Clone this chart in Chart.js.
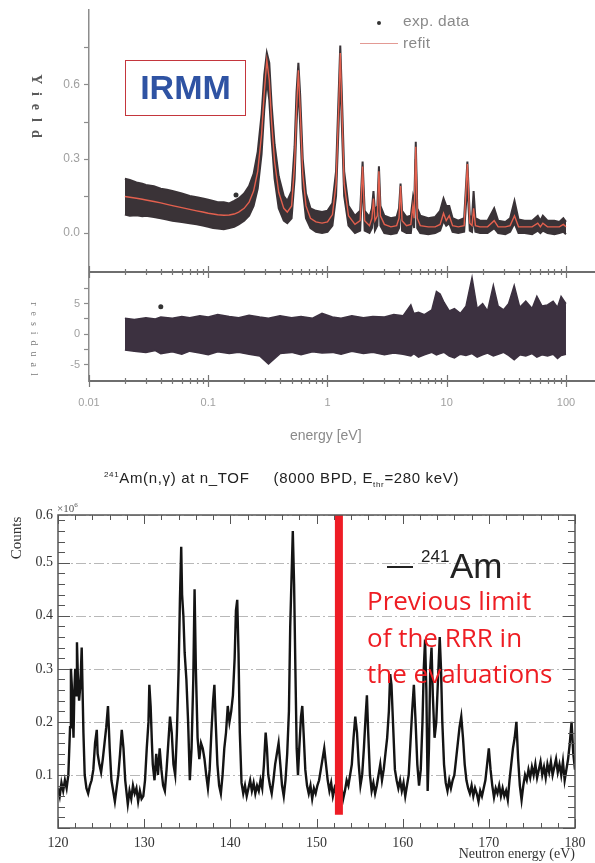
<!DOCTYPE html>
<html>
<head>
<meta charset="utf-8">
<script src="https://cdn.jsdelivr.net/npm/chart.js@4.4.1/dist/chart.umd.min.js"></script>
<style>
  body { margin: 0; background: #fff; width: 595px; height: 863px; position: relative; overflow: hidden; font-family: "Liberation Sans", Arial, sans-serif; }
  canvas { position: absolute; left: 0; }
  .lbl { position: absolute; white-space: nowrap; }
  .red { position: absolute; white-space: nowrap; left: 367px; font: 26px "Open Sans"; color: #ee1d23; }
</style>
</head>
<body>
<canvas id="yieldChart" width="595" height="272" style="top:0"></canvas>
<canvas id="residChart" width="595" height="201" style="top:262px"></canvas>
<canvas id="amChart" width="595" height="393" style="top:470px"></canvas>

<!-- top panel texts -->
<div class="lbl" style="left:125px;top:60px;width:121px;height:56px;box-sizing:border-box;border:1.5px solid #c4363d;color:#2f53a3;font:bold 34px 'Liberation Sans';text-align:center;line-height:52px;">IRMM</div>
<div class="lbl" style="left:377px;top:21px;width:4px;height:4px;border-radius:2px;background:#333;"></div>
<div class="lbl" style="left:403px;top:12px;font-size:15.5px;letter-spacing:0.3px;color:#8a8a8a;">exp. data</div>
<div class="lbl" style="left:360px;top:43px;width:38px;height:1px;background:#e39a94;"></div>
<div class="lbl" style="left:403px;top:34px;font-size:15.5px;letter-spacing:0.3px;color:#8a8a8a;">refit</div>
<div class="lbl" style="left:36px;top:110px;transform:translate(-50%,-50%) rotate(90deg);font:bold 14px 'Liberation Serif';letter-spacing:8px;color:#5a5a5a;">Yield</div>
<div class="lbl" style="left:34px;top:342px;transform:translate(-50%,-50%) rotate(90deg);font:10px 'Liberation Serif';letter-spacing:6px;color:#7a7a7a;">residual</div>
<div class="lbl" style="left:290px;top:427px;font-size:14px;color:#8a8a8a;">energy [eV]</div>

<!-- bottom panel texts -->
<div class="lbl" style="left:104px;top:469px;font-size:15px;letter-spacing:0.65px;color:#222;"><span style="font-size:8px;vertical-align:6px;">241</span>Am(n,γ) at n_TOF&nbsp;&nbsp;&nbsp;&nbsp;&nbsp;(8000 BPD, E<sub style="font-size:8px;">thr</sub>=280 keV)</div>
<div class="lbl" style="left:57px;top:501px;font:11px 'Liberation Serif';color:#555;">×10<sup style="font-size:7px;">6</sup></div>
<div class="lbl" style="left:16px;top:538px;transform:translate(-50%,-50%) rotate(-90deg);font:15px 'Liberation Serif';color:#333;">Counts</div>
<div class="lbl" style="right:20px;top:846px;font:14px 'Liberation Serif';color:#333;">Neutron energy (eV)</div>
<div class="lbl" style="left:387px;top:566px;width:26px;height:2px;background:#222;"></div>
<div class="lbl" style="left:421px;top:547px;font-size:17px;color:#222;">241</div>
<div class="lbl" style="left:450px;top:546px;font-size:35px;color:#222;">Am</div>
<div class="red" style="top:582px;">Previous limit</div>
<div class="red" style="top:619px;">of the RRR in</div>
<div class="red" style="top:655px;">the evaluations</div>

<script>
// ---- IRMM yield fit (top panel), energies in eV ----
const topEnergy = [
  0.02, 0.022, 0.025, 0.028, 0.03, 0.035, 0.04, 0.045, 0.05, 0.06,
  0.07, 0.08, 0.09, 0.1, 0.11, 0.12, 0.135, 0.15, 0.165, 0.18,
  0.2, 0.22, 0.24, 0.26, 0.28, 0.295, 0.31, 0.325, 0.34, 0.36,
  0.39, 0.43, 0.46, 0.5, 0.53, 0.55, 0.57, 0.59, 0.62, 0.66,
  0.72, 0.8, 0.9, 1.0, 1.1, 1.18, 1.24, 1.28, 1.32, 1.38,
  1.5, 1.7, 1.88, 1.97, 2.05, 2.25, 2.36, 2.43, 2.5, 2.62,
  2.7, 2.78, 3.0, 3.4, 3.8, 3.98, 4.1, 4.22, 4.6, 5.0,
  5.2, 5.33, 5.5, 5.66, 6.0, 7.0, 8.0, 8.8, 9.4, 9.9,
  10.5, 11.2, 12.5, 14.0, 14.9, 15.6, 16.3, 16.8, 17.4, 19,
  22, 25, 27, 31, 34, 37, 40, 45, 52, 58,
  61, 64, 70, 80, 88, 95, 100
];
const topFit = [
  0.148, 0.145, 0.141, 0.137, 0.134, 0.128, 0.122, 0.116, 0.111, 0.103,
  0.096, 0.09, 0.085, 0.08, 0.077, 0.074, 0.072, 0.073, 0.077, 0.085,
  0.1, 0.125, 0.17, 0.25, 0.4, 0.57, 0.7, 0.62, 0.45, 0.29,
  0.165, 0.1, 0.085, 0.11, 0.28, 0.5, 0.66, 0.5, 0.24, 0.11,
  0.06, 0.045, 0.04, 0.045, 0.075, 0.2, 0.5, 0.73, 0.5, 0.2,
  0.07, 0.035, 0.05, 0.27, 0.05, 0.03, 0.06, 0.14, 0.05, 0.07,
  0.25, 0.07, 0.035, 0.025, 0.03, 0.06, 0.19, 0.05, 0.03, 0.035,
  0.11, 0.06, 0.35, 0.06, 0.03, 0.025, 0.025, 0.035, 0.08, 0.05,
  0.07, 0.03, 0.025, 0.03, 0.28, 0.04, 0.03, 0.1, 0.03, 0.025,
  0.025, 0.05, 0.025, 0.025, 0.03, 0.07, 0.025, 0.025, 0.025, 0.04,
  0.025, 0.04, 0.025, 0.025, 0.025, 0.035, 0.025
];
const topExpHigh = [
  0.22, 0.215, 0.205, 0.2, 0.195, 0.19, 0.18, 0.175, 0.17, 0.16,
  0.15, 0.145, 0.14, 0.135, 0.13, 0.125, 0.125, 0.12, 0.13, 0.14,
  0.16, 0.19, 0.24, 0.33, 0.48, 0.64, 0.73, 0.69, 0.52, 0.36,
  0.23, 0.15, 0.13, 0.17, 0.35, 0.57, 0.69, 0.56, 0.3, 0.16,
  0.1, 0.09, 0.085, 0.09, 0.12, 0.25, 0.56, 0.76, 0.56, 0.25,
  0.11, 0.07, 0.09, 0.29, 0.09, 0.065, 0.1, 0.17, 0.09, 0.11,
  0.27, 0.11, 0.07, 0.06, 0.065, 0.1, 0.2, 0.09, 0.065, 0.07,
  0.14, 0.1, 0.37, 0.1, 0.07, 0.06, 0.065, 0.09, 0.14, 0.11,
  0.11, 0.06, 0.05, 0.06, 0.29, 0.07, 0.06, 0.17, 0.06, 0.05,
  0.05, 0.1, 0.05, 0.045, 0.06, 0.13, 0.055, 0.05, 0.05, 0.07,
  0.05, 0.07, 0.05, 0.05, 0.045, 0.06, 0.045
];
const topExpLow = [
  0.075, 0.07, 0.072, 0.068, 0.07, 0.065, 0.06, 0.055, 0.05, 0.045,
  0.04, 0.035, 0.03, 0.025, 0.02, 0.018, 0.015, 0.02, 0.025, 0.035,
  0.05, 0.07, 0.11, 0.18, 0.32, 0.5, 0.62, 0.54, 0.38, 0.22,
  0.1, 0.05, 0.04, 0.06, 0.22, 0.44, 0.6, 0.44, 0.18, 0.06,
  0.02, 0.005, 0.0, 0.005, 0.03, 0.15, 0.44, 0.66, 0.44, 0.15,
  0.03, 0.0, 0.01, 0.22, 0.01, 0.0, 0.02, 0.1, 0.01, 0.03,
  0.2, 0.03, 0.0, -0.005, 0.0, 0.02, 0.15, 0.01, 0.0, 0.0,
  0.07, 0.02, 0.3, 0.02, 0.0, -0.005, 0.0, 0.01, 0.05, 0.03,
  0.04, 0.005, 0.0, 0.005, 0.2, 0.01, 0.005, 0.07, 0.005, 0.0,
  0.0, 0.02, 0.0, -0.005, 0.005, 0.04, 0.0, 0.0, -0.005, 0.01,
  0.0, 0.01, 0.0, -0.005, 0.0, 0.005, -0.005
];
const topOutlier = { x: 0.171, y: 0.154 };

// ---- residuals ----
const resEnergy = [
  0.02, 0.024, 0.03, 0.036, 0.04, 0.05, 0.06, 0.07, 0.085, 0.1,
  0.12, 0.15, 0.18, 0.22, 0.27, 0.32, 0.4, 0.5, 0.6, 0.75,
  0.9, 1.1, 1.3, 1.6, 2.0, 2.4, 3.0, 3.6, 4.3, 5.0,
  5.3, 5.8, 6.5, 7.5, 8.2, 8.8, 9.5, 10.5, 11.6, 13,
  14.5, 16.3, 18, 20, 22, 24.6, 27, 30, 33, 36.8,
  41, 46, 52, 57, 63, 70, 78, 85, 91, 100
];
const resHigh = [
  2.6, 2.4, 2.7, 2.5, 2.8, 2.6, 2.9, 2.7, 3.0, 2.8,
  3.2, 2.9, 2.7, 3.1, 2.8, 2.6, 3.0, 2.7, 2.9, 2.6,
  3.4, 2.8, 2.6, 3.0, 2.7, 2.9, 2.8, 3.2, 3.0, 4.8,
  3.4, 3.6, 3.2, 4.0, 7.0, 6.6, 5.2, 3.8, 4.2, 3.4,
  4.6, 9.3, 4.2, 5.0, 3.8, 8.0, 4.6, 4.0, 5.0, 8.0,
  4.4, 5.4, 4.2, 6.2, 4.6, 4.8, 5.4, 4.4, 6.2, 5.0
];
const resLow = [
  -2.6, -2.8, -3.0, -2.7, -3.2, -2.9, -3.3, -2.8, -3.1, -3.4,
  -2.9, -3.2, -3.0, -3.3, -3.6, -4.9, -3.2, -3.0, -3.4, -2.9,
  -3.1, -3.0, -3.3, -2.8, -3.2, -3.0, -3.4, -3.1, -3.3, -3.6,
  -3.2, -3.8, -3.4, -3.0, -3.4, -3.2, -3.0, -3.6, -3.9, -3.3,
  -3.5, -3.2, -3.8, -3.4, -3.1, -3.6, -3.3, -3.0, -3.5, -4.2,
  -3.4, -3.6, -3.2, -3.8, -3.4, -3.6, -3.3, -4.0, -3.5, -3.3
];
const resOutlier = { x: 0.04, y: 4.5 };

const energyDecades = [0.01, 0.1, 1, 10, 100];
const energyDecadeLabels = ['0.01', '0.1', '1', '10', '100'];
const yieldTicks = [0, 0.15, 0.3, 0.45, 0.6, 0.75];
const yieldLabelled = [0, 0.3, 0.6];
const residTicks = [-5, -2.5, 0, 2.5, 5, 7.5];
const residLabelled = [-5, 0, 5];

// ---- 241Am(n,g) n_TOF counts (x10^6) vs neutron energy (eV) ----
const amSpectrum = [
  [120.0,.075],[120.2,.06],[120.4,.085],[120.6,.07],[120.8,.09],[121.0,.075],[121.2,.10],[121.4,.19],[121.5,.30],[121.6,.27],
  [121.7,.22],[121.8,.17],[121.9,.26],[122.0,.30],[122.1,.25],[122.2,.35],[122.3,.29],[122.45,.24],[122.6,.27],[122.75,.34],
  [122.85,.26],[122.95,.18],[123.1,.10],[123.3,.075],[123.5,.065],[123.7,.08],[123.9,.09],[124.1,.11],[124.3,.16],[124.5,.185],
  [124.6,.14],[124.8,.12],[125.0,.105],[125.2,.13],[125.4,.16],[125.6,.19],[125.8,.23],[126.0,.15],[126.2,.09],[126.4,.07],
  [126.6,.05],[126.8,.075],[127.0,.10],[127.2,.14],[127.4,.185],[127.6,.15],[127.8,.09],[128.0,.06],[128.1,.045],[128.3,.07],
  [128.5,.055],[128.7,.08],[128.9,.065],[129.1,.075],[129.3,.05],[129.5,.07],[129.7,.055],[129.9,.06],[130.1,.09],[130.3,.15],
  [130.5,.20],[130.6,.27],[130.75,.23],[130.9,.16],[131.0,.12],[131.2,.09],[131.4,.14],[131.6,.10],[131.8,.15],[132.0,.11],
  [132.2,.08],[132.4,.07],[132.6,.11],[132.8,.16],[133.0,.21],[133.2,.18],[133.4,.12],[133.6,.10],[133.8,.18],[134.0,.30],
  [134.15,.43],[134.3,.53],[134.4,.44],[134.55,.40],[134.7,.33],[134.9,.28],[135.1,.20],[135.3,.09],[135.5,.15],[135.7,.28],
  [135.85,.45],[136.0,.30],[136.2,.17],[136.4,.13],[136.6,.16],[136.8,.15],[137.0,.13],[137.2,.10],[137.4,.075],[137.6,.11],
  [137.8,.18],[138.0,.24],[138.15,.27],[138.3,.20],[138.5,.12],[138.7,.08],[138.9,.065],[139.1,.10],[139.3,.15],[139.5,.18],
  [139.7,.23],[139.9,.20],[140.1,.22],[140.3,.25],[140.5,.32],[140.65,.41],[140.8,.43],[140.95,.33],[141.1,.18],[141.3,.085],
  [141.5,.065],[141.7,.08],[141.9,.06],[142.1,.075],[142.3,.09],[142.5,.07],[142.7,.085],[142.9,.065],[143.1,.08],[143.3,.07],
  [143.5,.09],[143.7,.075],[143.9,.12],[144.1,.18],[144.25,.15],[144.4,.10],[144.6,.08],[144.8,.065],[145.0,.09],[145.2,.12],
  [145.4,.14],[145.6,.16],[145.8,.12],[146.0,.08],[146.2,.06],[146.4,.09],[146.6,.14],[146.8,.22],[146.95,.38],[147.1,.47],
  [147.25,.56],[147.4,.46],[147.55,.30],[147.7,.15],[147.85,.10],[148.0,.15],[148.2,.21],[148.35,.23],[148.5,.18],[148.7,.11],
  [148.9,.08],[149.1,.065],[149.3,.08],[149.5,.055],[149.7,.075],[149.9,.065],[150.1,.08],[150.3,.09],[150.5,.11],[150.7,.13],
  [150.9,.15],[151.1,.12],[151.3,.09],[151.5,.07],[151.7,.085],[151.9,.06],[152.1,.075],[152.3,.065],[152.5,.08],[152.7,.06],
  [152.9,.075],[153.1,.055],[153.3,.07],[153.5,.09],[153.7,.08],[153.9,.10],[154.1,.12],[154.3,.17],[154.5,.21],[154.7,.18],
  [154.9,.12],[155.1,.08],[155.3,.10],[155.5,.15],[155.7,.21],[155.85,.25],[156.0,.18],[156.2,.10],[156.4,.07],[156.6,.085],
  [156.8,.065],[157.0,.08],[157.2,.10],[157.4,.12],[157.6,.09],[157.8,.11],[158.0,.14],[158.2,.17],[158.4,.22],[158.55,.29],
  [158.7,.27],[158.9,.19],[159.1,.11],[159.3,.09],[159.5,.075],[159.7,.09],[159.9,.07],[160.1,.085],[160.3,.06],[160.5,.08],
  [160.7,.10],[160.9,.16],[161.1,.22],[161.3,.27],[161.5,.20],[161.7,.12],[161.9,.08],[162.1,.11],[162.3,.20],[162.45,.30],
  [162.6,.355],[162.75,.26],[162.9,.07],[163.05,.15],[163.2,.30],[163.35,.34],[163.5,.25],[163.7,.17],[163.9,.20],[164.1,.28],
  [164.3,.36],[164.45,.30],[164.6,.20],[164.8,.12],[165.0,.085],[165.2,.07],[165.4,.09],[165.6,.075],[165.8,.09],[166.0,.10],
  [166.2,.13],[166.4,.16],[166.6,.19],[166.8,.21],[167.0,.17],[167.2,.12],[167.4,.09],[167.6,.075],[167.8,.065],[168.0,.08],
  [168.2,.06],[168.4,.075],[168.6,.065],[168.8,.05],[169.0,.07],[169.2,.06],[169.4,.075],[169.6,.09],[169.8,.12],[170.0,.15],
  [170.2,.11],[170.4,.08],[170.6,.058],[170.8,.075],[171.0,.065],[171.2,.08],[171.4,.06],[171.6,.075],[171.8,.06],[172.0,.07],
  [172.2,.053],[172.4,.09],[172.6,.12],[172.8,.15],[173.0,.17],[173.2,.20],[173.4,.13],[173.6,.08],[173.8,.053],[174.0,.08],
  [174.2,.10],[174.4,.09],[174.6,.11],[174.8,.095],[175.0,.115],[175.2,.10],[175.4,.12],[175.6,.095],[175.8,.11],[176.0,.125],
  [176.2,.10],[176.4,.115],[176.6,.095],[176.8,.12],[177.0,.105],[177.2,.125],[177.4,.10],[177.6,.115],[177.8,.13],[178.0,.105],
  [178.2,.12],[178.4,.10],[178.6,.125],[178.8,.09],[179.0,.11],[179.2,.13],[179.4,.16],[179.6,.20],[179.8,.14],[180.0,.11]
];
const rrrLimit = 152.6;          // previous upper limit of the resolved resonance range (eV)
const rrrLineSpan = [0.025, 0.59];

// helpers
const pts = (xs, ys) => xs.map((x, i) => ({ x: x, y: ys[i] }));
const near = (v, list) => list.some(l => Math.abs(l - v) < 1e-9);
const xMaxTop = 171.8;   // log axis runs past 100 to the right edge, as in the figure

let logTickValues = [];
energyDecades.forEach(d => {
  if (d === 100) { logTickValues.push(100); return; }
  for (let m = 1; m <= 9; m++) logTickValues.push(m === 1 ? d : +(m * d).toPrecision(3));
});

// fixed axis width, no extra label padding at the ends
function fixWidth(w) {
  return function (s) { s.width = w; s.paddingTop = 0; s.paddingBottom = 0; };
}

// horizontal frame lines with the crossing log ticks of the residual panel
const residFrame = {
  id: 'residFrame',
  afterDraw(chart) {
    const { ctx, chartArea: a, scales: { x } } = chart;
    ctx.save();
    ctx.strokeStyle = '#6e6e6e';
    ctx.lineWidth = 2;
    ctx.beginPath();
    ctx.moveTo(a.left, a.top); ctx.lineTo(595, a.top);
    ctx.moveTo(a.left, a.bottom); ctx.lineTo(595, a.bottom);
    ctx.stroke();
    ctx.lineWidth = 1.2;
    ctx.strokeStyle = '#777';
    logTickValues.forEach(v => {
      const px = Math.round(x.getPixelForValue(v)) + 0.5;
      const h = near(v, energyDecades) ? 6 : 3;
      ctx.beginPath();
      ctx.moveTo(px, a.top - h); ctx.lineTo(px, a.top + h);
      ctx.moveTo(px, a.bottom - h); ctx.lineTo(px, a.bottom + h);
      ctx.stroke();
    });
    ctx.restore();
  }
};

// frame, dash-dot grid and inward ticks of the n_TOF panel
const amFrame = {
  id: 'amFrame',
  beforeDatasetsDraw(chart) {
    const { ctx, chartArea: a, scales: { y } } = chart;
    ctx.save();
    ctx.strokeStyle = '#b8b8b8';
    ctx.lineWidth = 1;
    ctx.setLineDash([10, 3, 2, 3]);
    y.ticks.forEach(t => {
      if (t.value <= 0) return;
      const py = Math.round(y.getPixelForValue(t.value)) + 0.5;
      ctx.beginPath(); ctx.moveTo(a.left, py); ctx.lineTo(a.right, py); ctx.stroke();
    });
    ctx.restore();
  },
  afterDraw(chart) {
    const { ctx, chartArea: a, scales: { x, y } } = chart;
    ctx.save();
    ctx.strokeStyle = '#555';
    ctx.lineWidth = 1.5;
    ctx.strokeRect(a.left, a.top, a.right - a.left, a.bottom - a.top);
    ctx.lineWidth = 1;
    for (let k = 0; k <= 30; k++) {
      const v = 120 + 2 * k;
      const px = Math.round(x.getPixelForValue(v)) + 0.5;
      const h = v % 10 === 0 ? 9 : 5;
      ctx.beginPath();
      ctx.moveTo(px, a.top); ctx.lineTo(px, a.top + h);
      ctx.moveTo(px, a.bottom); ctx.lineTo(px, a.bottom - h);
      ctx.stroke();
    }
    for (let k = 0; k <= 29; k++) {
      const v = k * 0.02;
      const py = Math.round(y.getPixelForValue(v)) + 0.5;
      const w = k % 5 === 0 ? 12 : 7;
      ctx.beginPath();
      ctx.moveTo(a.left, py); ctx.lineTo(a.left + w, py);
      ctx.moveTo(a.right, py); ctx.lineTo(a.right - w, py);
      ctx.stroke();
    }
    ctx.restore();
  }
};

const band = '#3a3337';

new Chart(document.getElementById('yieldChart'), {
  type: 'line',
  data: {
    datasets: [
      { label: 'refit', data: pts(topEnergy, topFit), borderColor: '#e4604e', borderWidth: 1.4, pointRadius: 0, order: 0 },
      { label: 'exp. data outlier', data: [topOutlier], showLine: false, pointRadius: 2.5, pointBackgroundColor: '#333', pointBorderWidth: 0, order: 1 },
      { label: 'exp. data', data: pts(topEnergy, topExpHigh), borderColor: band, borderWidth: 2, pointRadius: 0, order: 2 },
      { label: 'exp. data (low)', data: pts(topEnergy, topExpLow), borderColor: band, borderWidth: 2, pointRadius: 0, fill: '-1', backgroundColor: band, order: 2 }
    ]
  },
  options: {
    responsive: false, animation: false, devicePixelRatio: 1,
    layout: { autoPadding: false, padding: { top: 10, right: 1, left: 0, bottom: 0 } },
    plugins: { legend: { display: false }, tooltip: { enabled: false } },
    scales: {
      x: { type: 'logarithmic', min: 0.01, max: xMaxTop, display: false },
      y: {
        min: -0.158, max: 0.904,
        afterFit: fixWidth(89),
        afterBuildTicks(s) { s.ticks = yieldTicks.map(v => ({ value: v })); },
        grid: { drawOnChartArea: false, tickLength: 5, color: '#8c8c8c', tickWidth: 1.2 },
        border: { color: '#8c8c8c', width: 1.5 },
        ticks: { padding: 4, color: '#a0a0a0', font: { family: 'Liberation Sans', size: 12 },
          callback: v => near(v, yieldLabelled) ? v.toFixed(1) : '' }
      }
    }
  }
});

new Chart(document.getElementById('residChart'), {
  type: 'line',
  data: {
    datasets: [
      { label: 'outlier', data: [resOutlier], showLine: false, pointRadius: 2.5, pointBackgroundColor: '#333', pointBorderWidth: 0, order: 0 },
      { label: 'residual', data: pts(resEnergy, resHigh), borderColor: '#3c3140', borderWidth: 1.5, pointRadius: 0, order: 1 },
      { label: 'residual (low)', data: pts(resEnergy, resLow), borderColor: '#3c3140', borderWidth: 1.5, pointRadius: 0, fill: '-1', backgroundColor: '#3c3140', order: 1 }
    ]
  },
  options: {
    responsive: false, animation: false, devicePixelRatio: 1,
    layout: { autoPadding: false, padding: { top: 10, right: 1, left: 0, bottom: 0 } },
    plugins: { legend: { display: false }, tooltip: { enabled: false } },
    scales: {
      x: {
        type: 'logarithmic', min: 0.01, max: xMaxTop,
        afterFit(s) { s.height = 82; },
        afterBuildTicks(s) { s.ticks = logTickValues.map(v => ({ value: v })); },
        grid: { display: false, drawTicks: false },
        border: { display: false },
        ticks: { autoSkip: false, maxRotation: 0, padding: 15, color: '#a0a0a0', font: { family: 'Liberation Sans', size: 11 },
          callback: v => { const i = energyDecades.findIndex(d => Math.abs(d - v) < 1e-9); return i >= 0 ? energyDecadeLabels[i] : ''; } }
      },
      y: {
        min: -7.7, max: 10.2,
        afterFit: fixWidth(89),
        afterBuildTicks(s) { s.ticks = residTicks.map(v => ({ value: v })); },
        grid: { drawOnChartArea: false, tickLength: 5, color: '#8c8c8c', tickWidth: 1.2 },
        border: { color: '#8c8c8c', width: 1.5 },
        ticks: { padding: 4, color: '#a0a0a0', font: { family: 'Liberation Sans', size: 11 },
          callback: v => near(v, residLabelled) ? String(v) : '' }
      }
    }
  },
  plugins: [residFrame]
});

new Chart(document.getElementById('amChart'), {
  type: 'line',
  data: {
    datasets: [
      { label: 'previous RRR limit', data: rrrLineSpan.map(c => ({ x: rrrLimit, y: c })), borderColor: '#ee1c25', borderWidth: 8, borderCapStyle: 'butt', pointRadius: 0, order: 0 },
      { label: '241Am', data: amSpectrum.map(p => ({ x: p[0], y: p[1] })), borderColor: '#141414', borderWidth: 2.4, pointRadius: 0, order: 1 }
    ]
  },
  options: {
    responsive: false, animation: false, devicePixelRatio: 1,
    layout: { autoPadding: false, padding: { top: 45, right: 20, left: 0, bottom: 0 } },
    plugins: { legend: { display: false }, tooltip: { enabled: false } },
    scales: {
      x: {
        type: 'linear', min: 120, max: 180,
        afterFit(s) { s.height = 35; },
        grid: { display: false, drawTicks: false },
        border: { display: false },
        ticks: { stepSize: 10, padding: 7, color: '#333', font: { family: 'Liberation Serif', size: 14 } }
      },
      y: {
        min: 0, max: 0.59,
        afterFit: fixWidth(58),
        grid: { display: false, drawTicks: false },
        border: { display: false },
        ticks: { stepSize: 0.1, padding: 5, color: '#333', font: { family: 'Liberation Serif', size: 14 },
          callback: v => v === 0 ? '' : v.toFixed(1) }
      }
    }
  },
  plugins: [amFrame]
});
</script>
</body>
</html>
